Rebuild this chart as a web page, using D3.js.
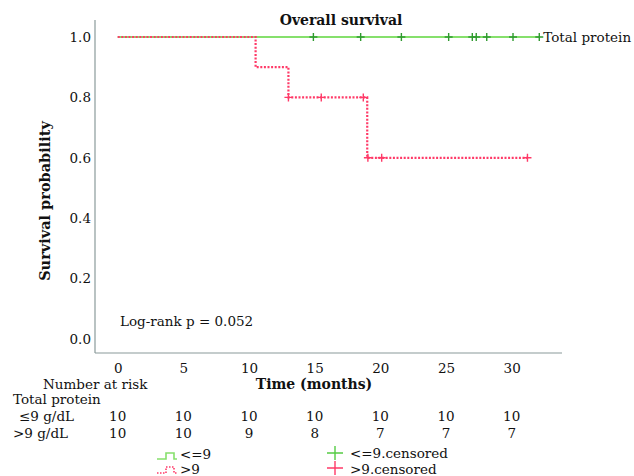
<!DOCTYPE html>
<meta charset="utf-8">
<head>
  <style>
    html, body { margin: 0; padding: 0; background: #fff; }
    svg text { font-family: 'DejaVu Serif', serif; fill: #111; }
  </style>
  <script src="https://d3js.org/d3.v7.min.js"></script>
</head>
<body>
  <div id="chart"></div>
  <script>
    // Kaplan-Meier steps: [time, survival]
    const lowSteps = [[0, 1], [32.1, 1]];
    const highSteps = [[0, 1], [10.5, 1], [10.5, 0.9], [13.0, 0.9], [13.0, 0.8], [19.0, 0.8], [19.0, 0.6], [31.2, 0.6]];
    // censored times
    const lowCensor = [[14.9, 1], [18.5, 1], [21.6, 1], [25.2, 1], [27.0, 1], [27.3, 1], [28.1, 1], [30.1, 1], [32.1, 1]];
    const highCensor = [[13.0, 0.8], [15.5, 0.8], [18.7, 0.8], [19.05, 0.6], [20.1, 0.6], [31.2, 0.6]];

    const xTicks = [0, 5, 10, 15, 20, 25, 30];
    const yTicks = [0, 0.2, 0.4, 0.6, 0.8, 1.0];
    const riskLow = [10, 10, 10, 10, 10, 10, 10];
    const riskHigh = [10, 10, 9, 8, 7, 7, 7];

    const W = 634, H = 476;
    const green = "#86e06c", greenDark = "#2f9a2f", red = "#ff3a68";
    const fs = "13.5px";

    const svg = d3.select("#chart").append("svg")
      .attr("width", W).attr("height", H);

    const x = d3.scaleLinear().domain([0, 30]).range([117.7, 511.7]);
    const y = d3.scaleLinear().domain([0, 1]).range([339, 37]);

    // frame
    svg.append("line").attr("x1", 95).attr("x2", 95).attr("y1", 20).attr("y2", 353)
      .attr("stroke", "#8a9a9a").attr("stroke-width", 1.2);
    svg.append("line").attr("x1", 95).attr("x2", 562).attr("y1", 353).attr("y2", 353)
      .attr("stroke", "#8a9a9a").attr("stroke-width", 1.2);

    // y axis labels
    const ya = svg.append("g").attr("transform", "translate(95,0)")
      .call(d3.axisLeft(y).tickValues(yTicks).tickSize(0).tickPadding(4).tickFormat(d3.format(".1f")));
    ya.select(".domain").remove();
    ya.selectAll("text").style("font-size", fs).style("font-family", "DejaVu Serif");

    // x axis labels
    const xa = svg.append("g").attr("transform", "translate(0,362)")
      .call(d3.axisBottom(x).tickValues(xTicks).tickSize(0).tickPadding(1));
    xa.select(".domain").remove();
    xa.selectAll("text").style("font-size", fs).style("font-family", "DejaVu Serif");

    const line = d3.line().x(d => x(d[0])).y(d => y(d[1]));

    svg.append("path").datum(lowSteps).attr("d", line)
      .attr("fill", "none").attr("stroke", green).attr("stroke-width", 2);
    svg.append("path").datum(highSteps).attr("d", line)
      .attr("fill", "none").attr("stroke", red).attr("stroke-width", 2.2)
      .attr("stroke-dasharray", "2,1.6");

    function plus(g, data, color) {
      g.selectAll(null).data(data).join("path")
        .attr("d", d => `M${x(d[0]) - 4},${y(d[1])}h8M${x(d[0])},${y(d[1]) - 4}v8`)
        .attr("stroke", color).attr("stroke-width", 1.4).attr("fill", "none");
    }
    plus(svg.append("g"), lowCensor, greenDark);
    plus(svg.append("g"), highCensor, red);

    // titles
    svg.append("text").attr("x", 341).attr("y", 25).attr("text-anchor", "middle")
      .style("font-size", "14px").style("font-weight", "bold").text("Overall survival");
    svg.append("text").attr("x", x(32.1) + 4).attr("y", 42)
      .style("font-size", fs).text("Total protein");
    svg.append("text").attr("transform", "translate(50,201) rotate(-90)").attr("text-anchor", "middle")
      .style("font-size", "14.5px").style("font-weight", "bold").text("Survival probability");
    svg.append("text").attr("x", 314).attr("y", 389).attr("text-anchor", "middle")
      .style("font-size", "14px").style("font-weight", "bold").text("Time (months)");
    svg.append("text").attr("x", 120).attr("y", 326)
      .style("font-size", fs).text("Log-rank p = 0.052");

    // number at risk table
    svg.append("text").attr("x", 43).attr("y", 389).style("font-size", fs).text("Number at risk");
    svg.append("text").attr("x", 13).attr("y", 404).style("font-size", fs).text("Total protein");
    svg.append("text").attr("x", 19).attr("y", 421).style("font-size", fs).text("≤9 g/dL");
    svg.append("text").attr("x", 13).attr("y", 438).style("font-size", fs).text(">9 g/dL");
    svg.append("g").selectAll("text").data(riskLow).join("text")
      .attr("x", (d, i) => x(xTicks[i])).attr("y", 421).attr("text-anchor", "middle")
      .style("font-size", fs).text(d => d);
    svg.append("g").selectAll("text").data(riskHigh).join("text")
      .attr("x", (d, i) => x(xTicks[i])).attr("y", 438).attr("text-anchor", "middle")
      .style("font-size", fs).text(d => d);

    // legend
    const lg = svg.append("g");
    lg.append("path").attr("d", "M157,459h9v-6h8v6h3").attr("fill", "none")
      .attr("stroke", green).attr("stroke-width", 1.6);
    lg.append("path").attr("d", "M157,473h9v-6h8v6h3").attr("fill", "none")
      .attr("stroke", red).attr("stroke-width", 1.6).attr("stroke-dasharray", "1.5,1.5");
    lg.append("text").attr("x", 180).attr("y", 459).style("font-size", fs).text("<=9");
    lg.append("text").attr("x", 180).attr("y", 474).style("font-size", fs).text(">9");
    lg.append("path").attr("d", "M327,453h16M335,446v14").attr("stroke", "#55cc44").attr("stroke-width", 1.4);
    lg.append("path").attr("d", "M327,468h16M335,461v14").attr("stroke", red).attr("stroke-width", 1.4);
    lg.append("text").attr("x", 350).attr("y", 458).style("font-size", fs).text("<=9.censored");
    lg.append("text").attr("x", 350).attr("y", 474).style("font-size", fs).text(">9.censored");
  </script>
</body>
